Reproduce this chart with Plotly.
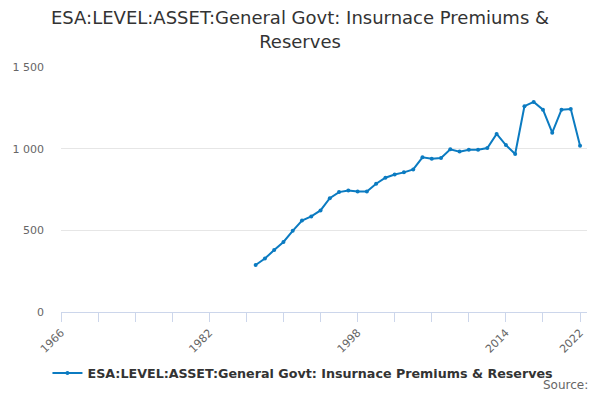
import plotly.graph_objects as go

# values
years = list(range(1987, 2023))
values = [288, 327, 380, 429, 497, 560, 585, 622, 697, 734,
          744, 738, 738, 785, 822, 842, 855, 873, 947, 939,
          943, 996, 982, 994, 994, 1004, 1090, 1022, 967, 1260,
          1286, 1239, 1098, 1239, 1243, 1018]

label_years = [1966, 1982, 1998, 2014, 2022]
minor_years = list(range(1966, 2023, 4))
y_ticks = [0, 500, 1000, 1500]

series_name = "ESA:LEVEL:ASSET:General Govt: Insurnace Premiums & Reserves"
title_text = "ESA:LEVEL:ASSET:General Govt: Insurnace Premiums &<br>Reserves"

fig = go.Figure()
fig.add_trace(go.Scatter(
    x=years,
    y=values,
    mode="lines+markers",
    name=series_name,
    line=dict(color="#0b7bc1", width=2),
    marker=dict(color="#0b7bc1", size=4),
))

# figure fills the window (page keeps its 8px body margin)
fig.update_layout(
    paper_bgcolor="white",
    plot_bgcolor="white",
    font=dict(family="DejaVu Sans", color="#333333"),
    separators=". ",
    margin=dict(l=53, r=5, t=59, b=80, autoexpand=False),
    title=dict(
        text=title_text,
        x=0.5,
        xanchor="center",
        y=0.958,
        yanchor="top",
        font=dict(size=18, color="#333333"),
    ),
    showlegend=True,
    legend=dict(
        orientation="h",
        x=0.46,
        xanchor="center",
        y=-0.25,
        yanchor="middle",
        font=dict(size=12.7, color="#333333", weight="bold"),
    ),
)

fig.update_xaxes(
    range=[1966, 2022.75],
    automargin=False,
    tickmode="array",
    tickvals=label_years,
    ticktext=[str(y) for y in label_years],
    tickangle=-45,
    tickfont=dict(size=11, color="#666666"),
    ticks="outside",
    ticklen=9,
    tickcolor="#ccd6eb",
    showline=True,
    linecolor="#ccd6eb",
    linewidth=1,
    showgrid=False,
    zeroline=False,
    minor=dict(tickmode="array", tickvals=minor_years, ticks="outside",
               ticklen=9, tickcolor="#ccd6eb", showgrid=False),
)

fig.update_yaxes(
    range=[0, 1500],
    automargin=False,
    tickmode="array",
    tickvals=y_ticks,
    tickformat=",d",
    tickfont=dict(size=11, color="#666666"),
    ticklabelstandoff=16,
    showgrid=True,
    gridcolor="#e6e6e6",
    zeroline=False,
    showline=False,
    ticks="",
)

fig.add_annotation(
    text="Source:",
    xref="paper", yref="paper",
    x=1.006, y=-0.297,
    xanchor="right", yanchor="middle",
    showarrow=False,
    font=dict(size=12, color="#666666"),
)

fig.write_html("out.html")
